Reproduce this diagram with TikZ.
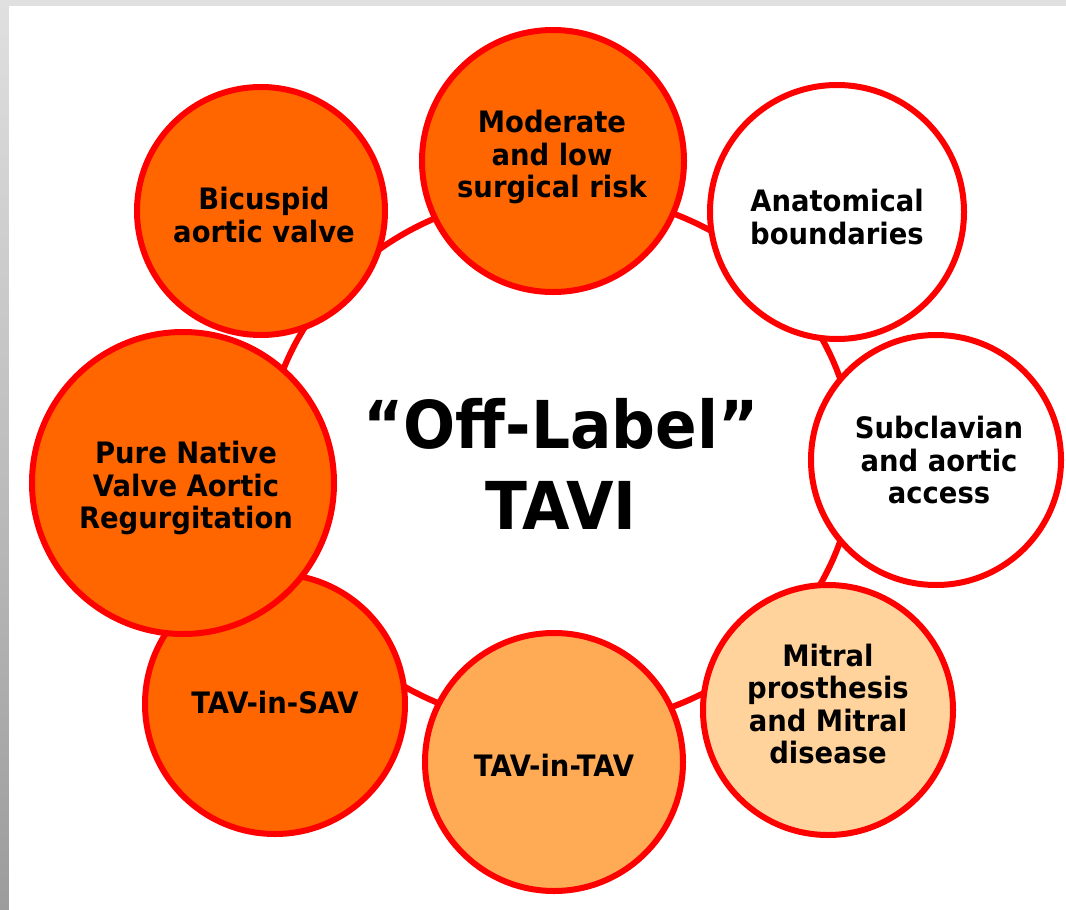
\documentclass[tikz,border=0pt]{standalone}
\usepackage{fontspec}
\setmainfont{DejaVu Sans}[FakeStretch=0.93]
\usetikzlibrary{shapes.geometric}
\definecolor{ringred}{RGB}{255,0,0}
\definecolor{darkorange}{RGB}{255,102,0}
\definecolor{midorange}{RGB}{255,170,85}
\definecolor{peach}{RGB}{255,211,155}
\definecolor{frametop}{RGB}{224,224,224}
\definecolor{framebot}{RGB}{156,156,156}
\begin{document}
\begin{tikzpicture}[x=1pt,y=-1pt,
  bubble/.style={circle, draw=ringred, line width=6pt, inner sep=0pt},
  lbl/.style={align=center, inner sep=0pt, text=black,
    font=\bfseries\fontsize{29.5}{32.5}\selectfont},
  ringstyle/.style={ellipse, draw=ringred, line width=6pt, inner sep=0pt}]
% frame
\useasboundingbox (0,0) rectangle (1066,910);
\shade[top color=frametop, bottom color=framebot] (0,0) rectangle (1066,910);
\fill[white] (9,6) rectangle (1066,910);
% ring with title
\node[ringstyle, minimum width=588pt, minimum height=534pt] (ring) at (560,460) {};
\node[align=center, inner sep=0pt, font=\bfseries\fontsize{66}{81}\selectfont] (title) at (561,464) {“Off-Label”\\TAVI};
% circles
\node[bubble, fill=darkorange, minimum size=248pt] (bic) at (261,211) {};
\node[bubble, fill=darkorange, minimum size=262pt] (mod) at (553,161) {};
\node[bubble, fill=white, minimum size=254pt] (ana) at (837,212) {};
\node[bubble, fill=white, minimum size=250pt] (sub) at (936,460) {};
\node[bubble, fill=peach, minimum size=250pt] (mit) at (828,710) {};
\node[bubble, fill=midorange, minimum size=258pt] (tt) at (554,762) {};
\node[bubble, fill=darkorange, minimum size=260pt] (ts) at (275,704) {};
\node[bubble, fill=darkorange, minimum size=302pt] (pn) at (183,483) {};
% labels
\node[lbl] (bicT) at (264,215) {Bicuspid\\aortic valve};
\node[lbl] (modT) at (552,157) {Moderate\\and low\\surgical risk};
\node[lbl] (anaT) at (837,217) {Anatomical\\boundaries};
\node[lbl] (subT) at (939,460) {Subclavian\\and aortic\\access};
\node[lbl] (mitT) at (828,704) {Mitral\\prosthesis\\and Mitral\\disease};
\node[lbl] (ttT) at (554,765) {TAV-in-TAV};
\node[lbl] (tsT) at (275,702) {TAV-in-SAV};
\node[lbl] (pnT) at (186,488) {Pure Native\\Valve Aortic\\Regurgitation};
\end{tikzpicture}
\end{document}
